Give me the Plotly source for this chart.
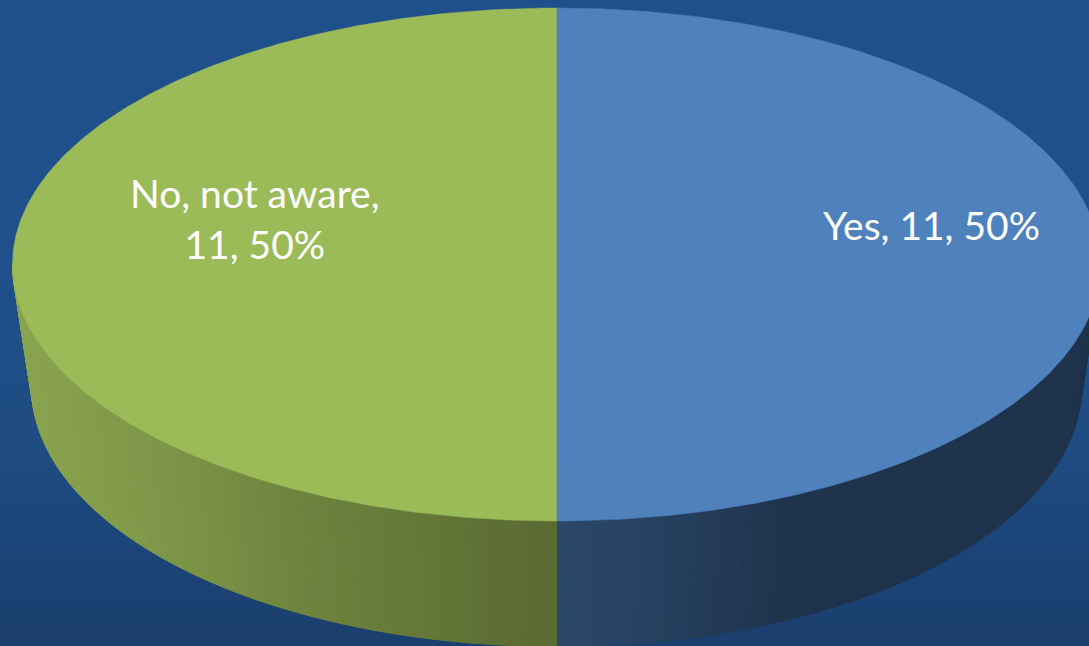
import numpy as np
import plotly.graph_objects as go

# Survey answers, drawn clockwise from twelve o'clock
categories = ["Yes", "No, not aware"]
counts = [11, 11]
label_lines = ["Yes, 11, 50%", "No, not aware,<br>11, 50%"]

top_colors = ["#4F81BD", "#9BBB59"]
label_anchor = [(931, 225), (255, 218)]

# Wall shading stops along the horizontal direction, one list per slice
wall_stops = [
    ([556, 640, 720, 790, 1100], ["#2B486A", "#274262", "#233A57", "#1F334D", "#1F334B"]),
    ([10, 130, 200, 290, 400, 480, 556],
     ["#8BA54E", "#80994A", "#7A9145", "#6F843F", "#667A38", "#5F7034", "#5B6A32"]),
]

# Projected disc: upper rim and lower rim are separate ellipses
TOP = dict(cx=556.5, cy=264.5, rx=544.0, ry=256.5)
BOTTOM = dict(cx=556.5, cy=386.0, rx=525.0, ry=260.5)

# Background wash from top to bottom
bg_y = [0, 240, 330, 440, 550, 646]
bg_rgb = ["#20508B", "#20508C", "#1F4E88", "#1E4C82", "#1C4478", "#1B3F6D"]


def rim(ellipse, theta):
    """Point on an ellipse; theta runs clockwise from twelve o'clock."""
    return (ellipse["cx"] + ellipse["rx"] * np.sin(theta),
            ellipse["cy"] - ellipse["ry"] * np.cos(theta))


def hex_rgb(c):
    return np.array([int(c[i:i + 2], 16) for i in (1, 3, 5)], dtype=float)


def wall_color(stops, x):
    xs, cols = stops
    rgb = np.array([hex_rgb(c) for c in cols])
    vals = [np.interp(x, xs, rgb[:, k]) for k in range(3)]
    return "rgb({:.0f},{:.0f},{:.0f})".format(*vals)


fig = go.Figure()

# Background gradient
scale_pos = [y / bg_y[-1] for y in bg_y]
fig.add_trace(go.Heatmap(
    x=[0, 1089], y=bg_y,
    z=[[y, y] for y in bg_y],
    colorscale=[[p, c] for p, c in zip(scale_pos, bg_rgb)],
    zmin=0, zmax=bg_y[-1], zsmooth="best", showscale=False, hoverinfo="skip",
))

total = sum(counts)
edges = 2 * np.pi * np.cumsum([0] + counts) / total

# Slice walls: only the front half of each slice is visible
for i in range(len(counts)):
    lo = max(edges[i], np.pi / 2)
    hi = min(edges[i + 1], 3 * np.pi / 2)
    if hi <= lo:
        continue
    steps = np.linspace(lo, hi, 121)
    for a, b in zip(steps[:-1], steps[1:]):
        ax, ay = rim(TOP, a)
        bx, by = rim(TOP, b)
        cx, cy = rim(BOTTOM, b)
        dx, dy = rim(BOTTOM, a)
        col = wall_color(wall_stops[i], (ax + bx) / 2)
        fig.add_trace(go.Scatter(
            x=[ax, bx, cx, dx, ax], y=[ay, by, cy, dy, ay],
            mode="lines", line=dict(color=col, width=1),
            fill="toself", fillcolor=col, hoverinfo="skip", showlegend=False,
        ))

# Slice tops
for i, name in enumerate(categories):
    theta = np.linspace(edges[i], edges[i + 1], 361)
    x, y = rim(TOP, theta)
    fig.add_trace(go.Scatter(
        x=np.append(x, x[0]), y=np.append(y, y[0]),
        mode="lines", line=dict(color=top_colors[i], width=0.5),
        fill="toself", fillcolor=top_colors[i], name=name,
        hoverinfo="name", showlegend=False,
    ))

for text, (lx, ly) in zip(label_lines, label_anchor):
    fig.add_annotation(
        x=lx, y=ly, text=text, showarrow=False, align="center",
        font=dict(family="Lato", size=39, color="white"),
    )

fig.update_layout(
    width=1089, height=646,
    margin=dict(l=0, r=0, t=0, b=0),
    paper_bgcolor="#1D4478", plot_bgcolor="#1D4478",
    xaxis=dict(range=[0, 1089], visible=False, fixedrange=True),
    yaxis=dict(range=[646, 0], visible=False, fixedrange=True),
    showlegend=False,
)

fig.write_html("out.html", config={"displayModeBar": False})
